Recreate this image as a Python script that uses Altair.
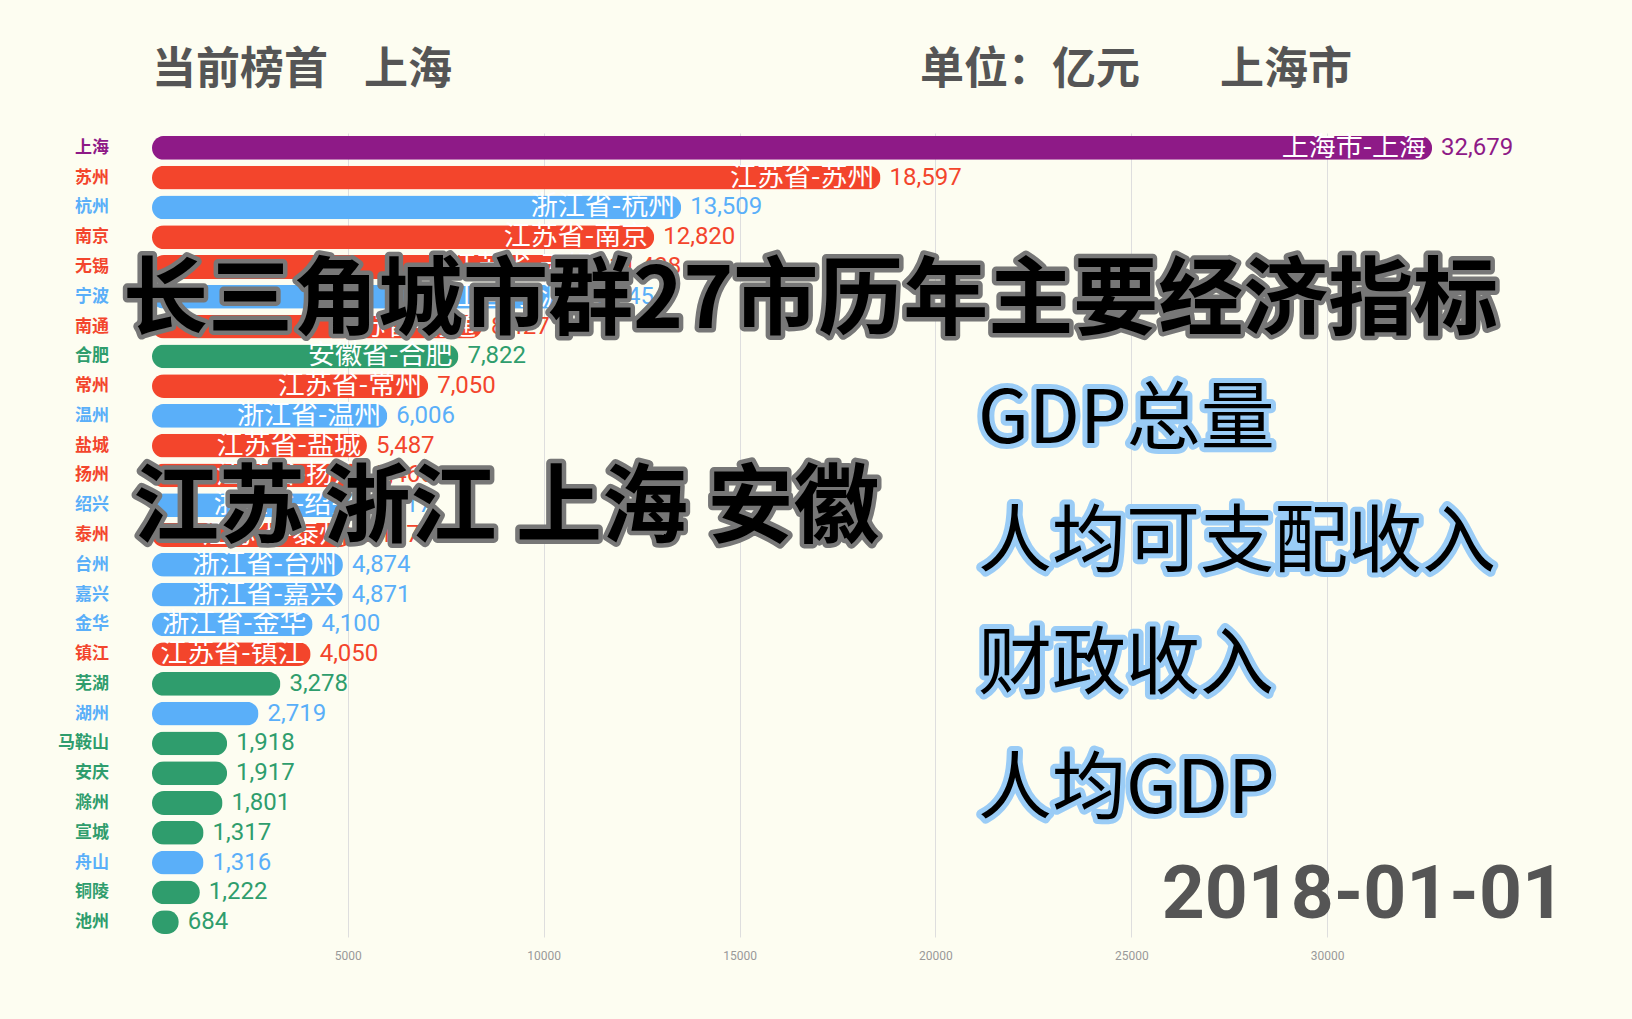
import altair as alt
import pandas as pd

cities = ["上海", "苏州", "杭州", "南京", "无锡", "宁波", "南通", "合肥", "常州", "温州",
          "盐城", "扬州", "绍兴", "泰州", "台州", "嘉兴", "金华", "镇江", "芜湖", "湖州",
          "马鞍山", "安庆", "滁州", "宣城", "舟山", "铜陵", "池州"]
provinces = ["上海市", "江苏省", "浙江省", "江苏省", "江苏省", "浙江省", "江苏省", "安徽省", "江苏省", "浙江省",
             "江苏省", "江苏省", "浙江省", "江苏省", "浙江省", "浙江省", "浙江省", "江苏省", "安徽省", "浙江省",
             "安徽省", "安徽省", "安徽省", "安徽省", "浙江省", "安徽省", "安徽省"]
gdp = [32679, 18597, 13509, 12820, 11438, 10745, 8427, 7822, 7050, 6006,
       5487, 5466, 5417, 5107, 4874, 4871, 4100, 4050, 3278, 2719,
       1918, 1917, 1801, 1317, 1316, 1222, 684]

province_names = ["上海市", "江苏省", "浙江省", "安徽省"]
province_colors = ["#8E1A87", "#F3452C", "#5AAFF9", "#2F9D6D"]
x_ticks = [5000, 10000, 15000, 20000, 25000, 30000]

title_left = "当前榜首"
leader = "上海"
unit_text = "单位：亿元"
region_text = "上海市"
date_text = "2018-01-01"
overlay_title = "长三角城市群27市历年主要经济指标"
overlay_prov = "江苏 浙江 上海 安徽"
indicators = ["GDP总量", "人均可支配收入", "财政收入", "人均GDP"]

df = pd.DataFrame({"city": cities, "province": provinces, "gdp": gdp})
df["label"] = df["province"] + "-" + df["city"]

CJK = "Noto Sans CJK SC"
NUM = "Roboto"

color = alt.Color("province:N", scale=alt.Scale(domain=province_names, range=province_colors), legend=None)
yenc = alt.Y("city:N", sort=cities, axis=None,
             scale=alt.Scale(paddingInner=0.2, paddingOuter=0.1))
xenc = alt.X("gdp:Q", scale=alt.Scale(domain=[0, 35000], nice=False),
             axis=alt.Axis(values=x_ticks, format="d", grid=True, gridColor="#dedede",
                           domain=False, ticks=False, title=None, labelFontSize=12,
                           labelColor="#999999", labelPadding=13, labelFont="Roboto"))

base = alt.Chart(df)
bars = base.mark_bar(cornerRadius=12).encode(x=xenc, y=yenc, color=color)
values = base.mark_text(align="left", baseline="middle", dx=9, fontSize=24, font=NUM).encode(
    x="gdp:Q", y=alt.Y("city:N", sort=cities), color=color,
    text=alt.Text("gdp:Q", format=","))
inside = base.transform_filter("datum.gdp >= 4000").mark_text(
    align="right", baseline="middle", dx=-6, fontSize=27, font=CJK, color="white").encode(
    x="gdp:Q", y=alt.Y("city:N", sort=cities), text="label:N")
city_labels = base.mark_text(align="right", baseline="middle", fontSize=17, font=CJK, fontWeight="bold").encode(
    x=alt.value(-43), y=alt.Y("city:N", sort=cities), color=color, text="city:N")

one = pd.DataFrame({"k": [0]})


def plain(txt, x, y, size, fill, weight="bold", font=CJK, align="left"):
    return alt.Chart(one).mark_text(text=txt, fontSize=size, font=font, fontWeight=weight,
                                    align=align, baseline="middle", fill=fill).encode(
        x=alt.value(x), y=alt.value(y))


def outlined(txt, x, y, size, fill, stroke, sw, weight="bold", font=CJK):
    back = alt.Chart(one).mark_text(text=txt, fontSize=size, font=font, fontWeight=weight,
                                    align="left", baseline="middle", fill=stroke, stroke=stroke,
                                    strokeWidth=sw, strokeJoin="round").encode(
        x=alt.value(x), y=alt.value(y))
    front = plain(txt, x, y, size, fill, weight=weight, font=font)
    return [back, front]


layers = [bars, inside, values, city_labels,
          plain(title_left, 0, -62, 44, "#555555"),
          plain(leader, 212, -62, 44, "#555555"),
          plain(unit_text, 768, -62, 44, "#555555"),
          plain(region_text, 1068, -62, 44, "#555555"),
          plain(date_text, 1413, 762, 75, "#555555", font=NUM, align="right")]
layers += outlined(overlay_title, -29, 169, 85, "#000000", "#777777", 9)
layers += outlined(overlay_prov, -19, 377, 86, "#000000", "#777777", 9)
for i, t in enumerate(indicators):
    layers += outlined(t, 826, [288, 411, 533, 658][i], 74, "#000000", "#9ACCF6", 10, weight=400)

chart = alt.layer(*layers).properties(
    width=1371, height=804,
    autosize=alt.AutoSizeParams(type="none"),
    padding={"left": 152, "top": 133, "right": 109, "bottom": 82},
    background="#FDFDF1",
).configure_view(stroke=None)

chart.save("out.html", embed_options={"renderer": "svg", "actions": False})
